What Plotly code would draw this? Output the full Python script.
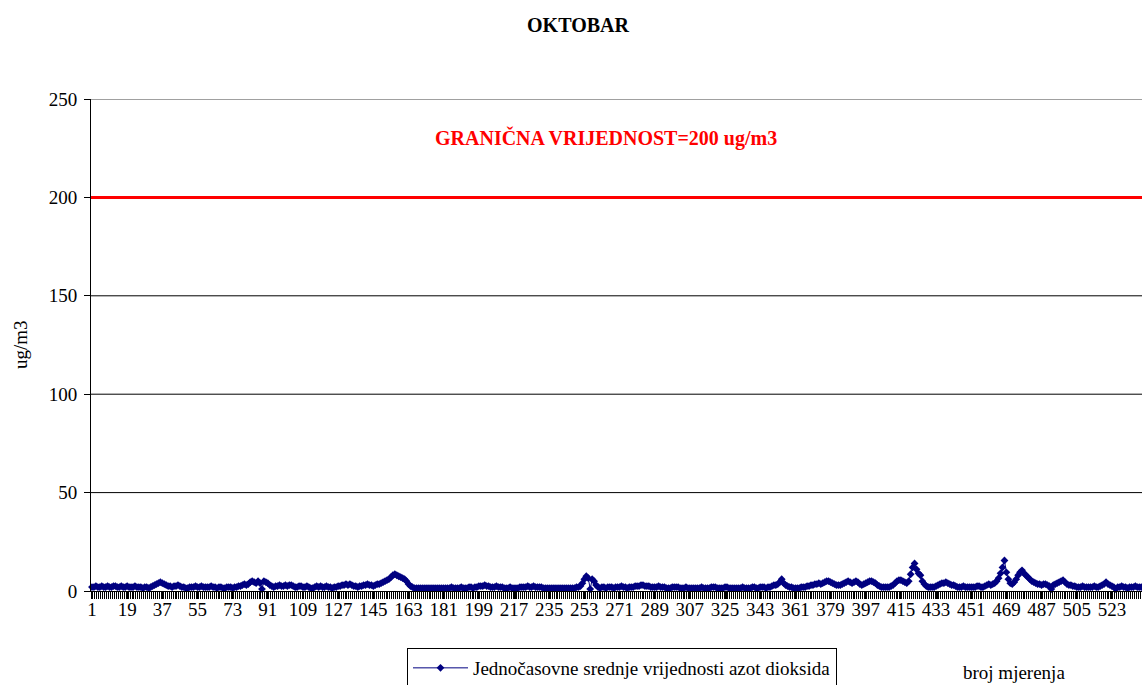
import plotly.graph_objects as go

# ---- data ----
no2_values = [
    2, 2, 2.5, 2, 2, 2.5, 2, 2, 2.5, 2, 2, 2.5, 2.5, 2, 2, 2.5, 2, 2, 2.5, 2,
    2, 2, 2.5, 2, 2, 2, 1.5, 2, 2, 1.5, 2, 2.5, 3, 3.5, 4, 4.5, 4, 3.5, 3, 2.5,
    2.5, 2, 2.5, 2.5, 3, 2.5, 2, 2, 1.5, 1.5, 2, 2, 2, 2.5, 2, 2, 2.5, 2, 2, 2,
    2, 2.5, 2, 2, 1.5, 2, 2, 1.5, 1.5, 2, 2, 2, 1.5, 2, 2, 2.5, 2.5, 3, 3.5, 3,
    3.5, 4.5, 5, 4.5, 4, 5, 4, 1, 5, 4.5, 4, 3, 2.5, 2, 2.5, 2.5, 3, 2.5, 2.5, 3,
    2.5, 3, 3, 2.5, 2, 2, 2.5, 2.5, 2, 2, 2.5, 2, 1.5, 1.5, 2, 2.5, 2, 2.5, 2, 2,
    2.5, 2, 2, 1.5, 2, 2, 2.5, 2.5, 3, 3, 3.5, 3, 3.5, 3, 2.5, 2.5, 2, 2.5, 2.5, 3,
    3, 3.5, 3, 3, 2.5, 3, 3.5, 3.5, 4, 4.5, 5, 5.5, 6, 7, 8, 8.5, 8, 7.5, 7, 6.5,
    6, 5, 3.5, 2.5, 2, 1.5, 1.5, 1.5, 1.5, 1.5, 1.5, 1.5, 1.5, 1.5, 1.5, 1.5, 1.5, 1.5, 1.5, 1.5,
    1.5, 1.5, 1.5, 1.5, 2, 1.5, 1.5, 1.5, 1.5, 2, 1.5, 1.5, 1.5, 2, 2, 1.5, 2, 2, 2.5, 2.5,
    2.5, 3, 2.5, 2.5, 2, 2, 2, 2.5, 2, 2, 2, 1.5, 1.5, 1.5, 2, 1.5, 1.5, 1.5, 1.5, 2,
    2, 2, 2, 2.5, 2, 2, 2.5, 2, 2, 2, 2, 1.5, 1.5, 1.5, 1.5, 1.5, 1.5, 1.5, 1.5, 1.5,
    1.5, 1.5, 1.5, 1.5, 1.5, 1.5, 1.5, 1.5, 2, 2, 2.5, 4, 6, 7.5, 6.5, 1, 6, 5, 3, 2,
    1.5, 2, 2, 1.5, 2, 2, 2, 1.5, 2, 2, 2, 2.5, 2, 2, 1.5, 2, 2, 2, 2.5, 2.5,
    2.5, 3, 3, 2.5, 2.5, 2.5, 2, 2, 2, 2, 2.5, 2, 2, 2, 1.5, 1.5, 1.5, 2, 2, 2,
    2, 1.5, 1.5, 1.5, 2, 1.5, 1.5, 1.5, 1.5, 1.5, 1.5, 1.5, 2, 1.5, 1.5, 1.5, 1.5, 2, 2, 2,
    1.5, 1.5, 1.5, 1.5, 2, 2, 1.5, 1.5, 1.5, 1.5, 1.5, 1.5, 1.5, 2, 1.5, 1.5, 1.5, 1.5, 2, 2,
    1.5, 1.5, 2, 2, 2, 1.5, 2, 2, 2.5, 3, 3, 3.5, 4.5, 6, 4, 3, 2.5, 2, 2, 1.5,
    1.5, 1.5, 1.5, 2, 2, 2, 2.5, 2.5, 3, 3, 3.5, 3.5, 4, 3.5, 4, 4.5, 5, 5, 4.5, 4,
    3.5, 3, 3, 3, 3.5, 4, 4.5, 5, 4.5, 4, 4.5, 5, 4.5, 3.5, 3, 3.5, 4, 4.5, 5, 5,
    4.5, 4, 3, 2.5, 2, 2, 2, 2, 2, 2.5, 3, 4, 5, 5.5, 5.5, 5, 4.5, 4, 5, 8.5,
    12, 14, 11, 9, 8, 5, 3.5, 2.5, 2, 2, 2, 2, 2.5, 3, 3.5, 4, 4, 4.5, 4, 3.5,
    3, 3, 2.5, 2, 2, 2, 2.5, 2, 2, 2, 2, 2, 2, 2.5, 2.5, 2, 2, 2.5, 3, 3.5,
    3, 3.5, 4, 5, 6.5, 9, 12, 15.5, 9.5, 6, 4, 3.5, 4.5, 6, 8, 9.5, 10.5, 9, 8, 7,
    6, 5, 4.5, 4, 3.5, 3.5, 3, 3.5, 3.5, 3, 2.5, 1, 3, 3.5, 4, 4.5, 5, 5.5, 4.5, 3.5,
    3, 3, 2.5, 2.5, 2, 2, 2, 2.5, 2, 2, 2, 2, 2, 2.5, 2, 2, 2.5, 3, 3.5, 4.5,
    3.5, 3, 2.5, 2, 1, 2, 2, 2.5, 2, 2, 1.5, 2, 2, 2, 2.5, 2, 2, 2, 2.5, 2,
]
measurement_no = list(range(1, len(no2_values) + 1))
LIMIT = 200
y_ticks = [0, 50, 100, 150, 200, 250]
series_name = "Jednočasovne srednje vrijednosti azot dioksida"

SERIF = "Times New Roman, Liberation Serif, Tinos, serif"
FS = 19

fig = go.Figure()
fig.add_trace(go.Scatter(
    x=measurement_no, y=no2_values, mode="lines+markers", name=series_name,
    line=dict(color="#000080", width=1),
    marker=dict(symbol="diamond", size=6, color="#000080"),
    cliponaxis=False,
))

shapes = []
for g in [50, 100, 150]:
    shapes.append(dict(type="line", xref="paper", x0=0, x1=1, yref="y", y0=g, y1=g,
                       line=dict(color="black", width=1), layer="below"))
shapes.append(dict(type="line", xref="paper", x0=0, x1=1, yref="y", y0=250, y1=250,
                   line=dict(color="#a0a0a0", width=2), layer="below"))
shapes.append(dict(type="line", xref="paper", x0=0, x1=1, yref="y", y0=LIMIT, y1=LIMIT,
                   line=dict(color="#ff0000", width=3), layer="below"))

fig.update_layout(
    width=1142, height=685,
    margin=dict(l=91, r=0, t=99, b=94, autoexpand=False),
    paper_bgcolor="white", plot_bgcolor="white",
    font=dict(family=SERIF, size=FS, color="black"),
    title=dict(text="<b>OKTOBAR</b>", x=578 / 1142, xref="container", y=1 - 25 / 685,
               yref="container", xanchor="center", yanchor="middle",
               font=dict(family=SERIF, size=20, color="black")),
    shapes=shapes,
    showlegend=True,
    legend=dict(xref="container", yref="container",
                x=407 / 1142, y=1 - 648 / 685, xanchor="left", yanchor="top",
                bordercolor="black", borderwidth=1, bgcolor="white",
                font=dict(family=SERIF, size=FS, color="black"),
                itemwidth=55, tracegroupgap=0),
    xaxis=dict(
        range=[0.5, 538.4], showgrid=False, zeroline=False, automargin=False,
        showline=True, linecolor="black", linewidth=1,
        ticks="outside", ticklen=7, tickcolor="black", tickwidth=1,
        ticklabelstandoff=-6,
        tick0=1, dtick=18, tickfont=dict(family=SERIF, size=FS, color="black"),
        minor=dict(ticks="outside", ticklen=7, tickcolor="black", tickwidth=1,
                   tick0=0.5, dtick=1, showgrid=False),
    ),
    yaxis=dict(
        range=[0, 250], tickvals=y_ticks, showgrid=False, zeroline=False, automargin=False,
        showline=True, linecolor="black", linewidth=1,
        ticks="outside", ticklen=6, tickcolor="black", ticklabelstandoff=3,
        tickfont=dict(family=SERIF, size=FS, color="black"),
    ),
    annotations=[
        dict(text="<b>GRANIČNA VRIJEDNOST=200 ug/m3</b>", xref="paper", x=(606 - 91) / 1051,
             yref="y", y=230, showarrow=False, xanchor="center", yanchor="middle",
             font=dict(family=SERIF, size=20, color="#ff0000")),
        dict(text="ug/m3", xref="paper", x=(20 - 91) / 1051, yref="y", y=125,
             textangle=-90, showarrow=False, xanchor="center", yanchor="middle",
             font=dict(family=SERIF, size=FS, color="black")),
        dict(text="broj mjerenja", xref="paper", x=(1014 - 91) / 1051,
             yref="paper", y=(591 - 672) / 492, showarrow=False,
             xanchor="center", yanchor="middle",
             font=dict(family=SERIF, size=FS, color="black")),
    ],
)

fig.write_html("out.html", config={"displayModeBar": False},
               post_script="document.body.style.margin='0';document.body.style.overflow='hidden';")
